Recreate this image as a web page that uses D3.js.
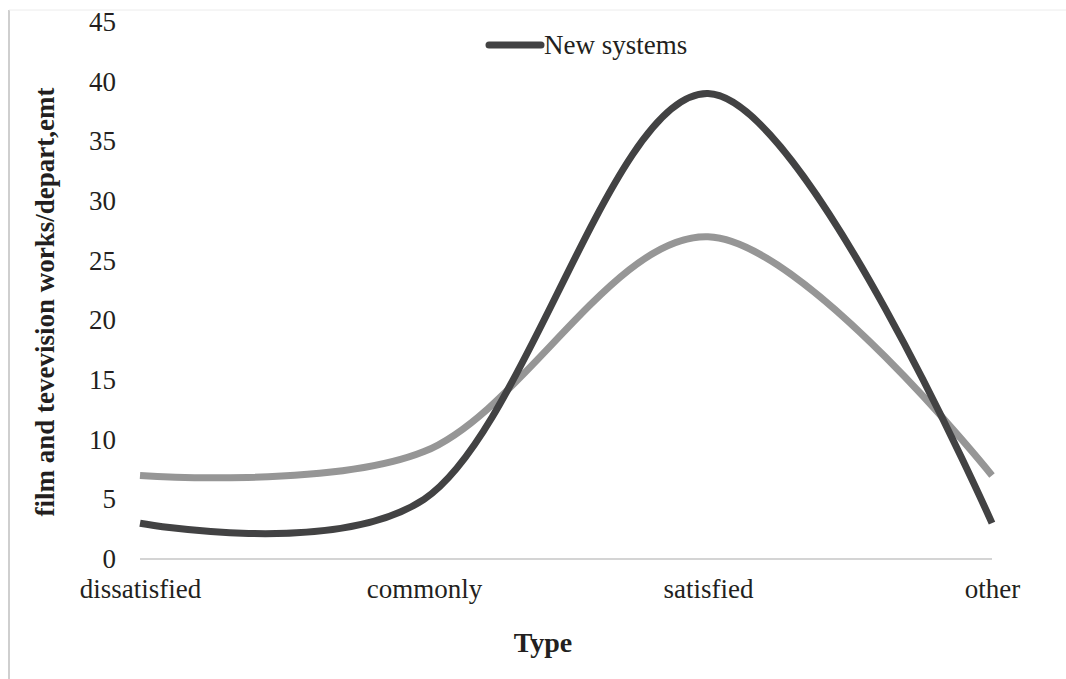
<!DOCTYPE html>
<html>
<head>
<meta charset="utf-8">
<script src="https://cdn.jsdelivr.net/npm/d3@7"></script>
<style>
    body { margin: 0; background: #fff; }
    svg text { font-family: "Liberation Serif", "Times New Roman", serif; fill: #231f20; }
</style>
</head>
<body>
<div id="chart"></div>
<script>
// categories and series
let categories = ["dissatisfied", "commonly", "satisfied", "other"];
let newSystems = [3, 5, 39, 3];
let oldSystems = [7, 9, 27, 7];
let yTicks = [0, 5, 10, 15, 20, 25, 30, 35, 40, 45];

let width = 1066, height = 679;

let svg = d3.select("#chart").append("svg")
    .attr("width", width)
    .attr("height", height);

// frame lines
svg.append("line").attr("x1", 9).attr("x2", 9).attr("y1", 10).attr("y2", height)
    .attr("stroke", "#cfcfcf").attr("stroke-width", 2);
svg.append("line").attr("x1", 9).attr("x2", width).attr("y1", 10).attr("y2", 10)
    .attr("stroke", "#ececec").attr("stroke-width", 1);

let x = d3.scalePoint().domain(categories).range([140, 992]);
let y = d3.scaleLinear().domain([0, 45]).range([559, 22]);

// y axis
let yAxis = svg.append("g")
    .attr("transform", "translate(116,0)")
    .call(d3.axisLeft(y).tickValues(yTicks).tickSize(0).tickPadding(0));
yAxis.select(".domain").remove();
yAxis.selectAll("text")
    .attr("font-size", 27)
    .attr("font-family", "Liberation Serif")
    .attr("fill", "#231f20");

// x axis
let xAxis = svg.append("g")
    .attr("transform", "translate(0,559)")
    .call(d3.axisBottom(x).tickSize(0).tickPadding(20));
xAxis.select(".domain")
    .attr("d", "M" + x.range()[0] + ",0H" + x.range()[1])
    .attr("stroke", "#d4d4d4")
    .attr("stroke-width", 2);
xAxis.selectAll("text")
    .attr("font-size", 27)
    .attr("font-family", "Liberation Serif")
    .attr("fill", "#231f20");

// smoothed lines
let line = d3.line()
    .x((d, i) => x(categories[i]))
    .y(d => y(d))
    .curve(d3.curveCatmullRom.alpha(0.25));

svg.append("path")
    .datum(oldSystems)
    .attr("d", line)
    .attr("fill", "none")
    .attr("stroke", "#969696")
    .attr("stroke-width", 7);

svg.append("path")
    .datum(newSystems)
    .attr("d", line)
    .attr("fill", "none")
    .attr("stroke", "#424243")
    .attr("stroke-width", 7);

// legend
svg.append("line")
    .attr("x1", 489).attr("x2", 541).attr("y1", 45).attr("y2", 45)
    .attr("stroke", "#424243").attr("stroke-width", 7).attr("stroke-linecap", "round");
svg.append("text")
    .attr("x", 544).attr("y", 54)
    .attr("font-size", 27)
    .text("New systems");

// axis titles
svg.append("text")
    .attr("transform", "translate(54,302) rotate(-90)")
    .attr("text-anchor", "middle")
    .attr("font-size", 27)
    .attr("font-weight", "bold")
    .text("film and tevevision works/depart,emt");

svg.append("text")
    .attr("x", 543).attr("y", 652)
    .attr("text-anchor", "middle")
    .attr("font-size", 28)
    .attr("font-weight", "bold")
    .text("Type");
</script>
</body>
</html>
